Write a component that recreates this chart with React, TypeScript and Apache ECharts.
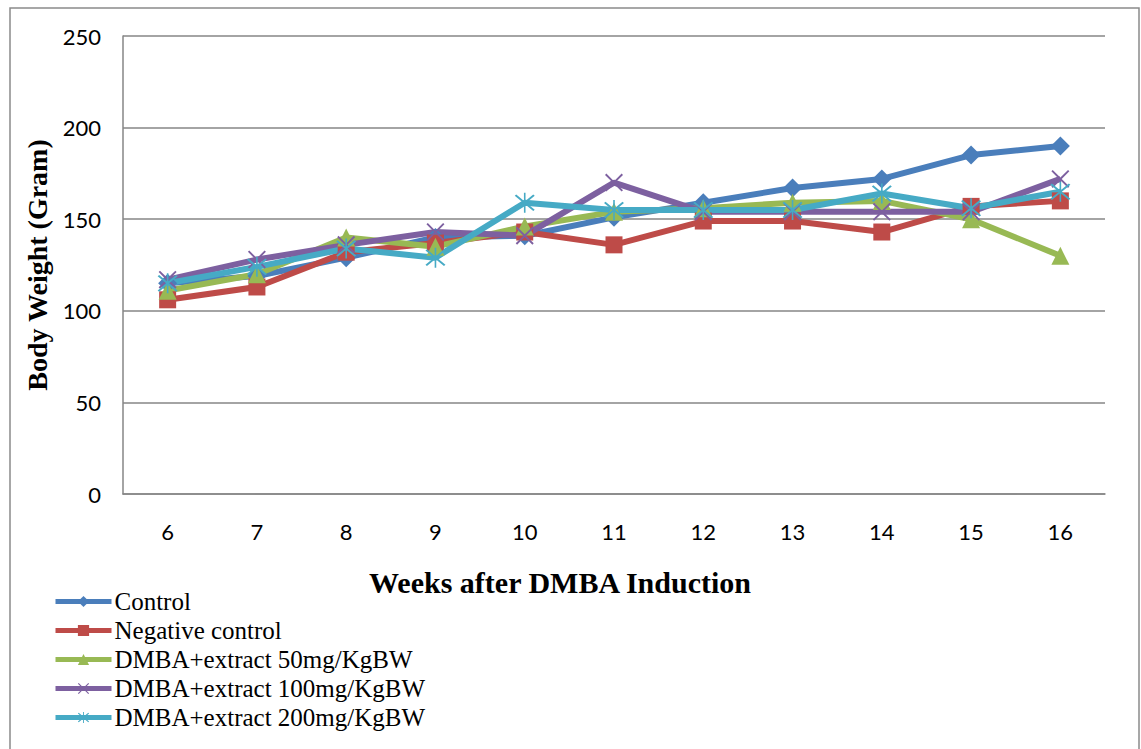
import React, { useEffect, useRef } from "react";
import * as echarts from "echarts";

const weeks = ["6", "7", "8", "9", "10", "11", "12", "13", "14", "15", "16"];
const seriesNames = [
  "Control",
  "Negative control",
  "DMBA+extract 50mg/KgBW",
  "DMBA+extract 100mg/KgBW",
  "DMBA+extract 200mg/KgBW",
];
const control = [115, 119, 129, 140, 141, 151, 159, 167, 172, 185, 190];
const negativeControl = [106, 113, 132, 137, 143, 136, 149, 149, 143, 157, 160];
const extract50 = [111, 120, 140, 135, 146, 154, 156, 159, 160, 150, 130];
const extract100 = [117, 128, 136, 143, 141, 170, 154, 154, 154, 154, 172];
const extract200 = [115, 124, 134, 129, 159, 155, 155, 155, 164, 156, 165];
const yTicks = { min: 0, max: 250, interval: 50 };

const colors = ["#4A7EBB", "#BE4B48", "#98B954", "#7D60A0", "#46AAC5"];

const xPath =
  "path://M0,1.5 L1.5,0 L10,8.5 L18.5,0 L20,1.5 L11.5,10 L20,18.5 L18.5,20 L10,11.5 L1.5,20 L0,18.5 L8.5,10 Z";
const starPath =
  "path://M0,1.5 L1.5,0 L10,8.5 L18.5,0 L20,1.5 L11.5,10 L20,18.5 L18.5,20 L10,11.5 L1.5,20 L0,18.5 L8.5,10 Z M9.2,-2 L10.8,-2 L10.8,22 L9.2,22 Z";

export default function App() {
  const ref = useRef<HTMLDivElement>(null);
  useEffect(() => {
    if (!ref.current) return;
    const chart = echarts.init(ref.current, null, { renderer: "svg" });
    const data = [control, negativeControl, extract50, extract100, extract200];
    const symbols = ["diamond", "rect", "triangle", xPath, starPath];
    const sizes = [19, 17, 18, 18, 20];
    chart.setOption({
      animation: false,
      backgroundColor: "#fff",
      grid: { left: 123, right: 36, top: 36, bottom: 255 },
      legend: {
        orient: "vertical",
        left: 53,
        top: 589,
        padding: 0,
        itemWidth: 56,
        itemHeight: 14,
        itemGap: 4,
        data: seriesNames,
        lineStyle: { width: 5 },
        textStyle: {
          fontFamily: "Liberation Serif",
          fontSize: 25,
          color: "#000",
          lineHeight: 25,
          padding: [0, 0, 0, -2],
        },
      },
      xAxis: {
        type: "category",
        data: weeks,
        boundaryGap: true,
        axisLine: { show: true, lineStyle: { color: "#868686", width: 1.5 } },
        axisTick: { show: false },
        axisLabel: {
          margin: 26,
          fontFamily: "Lato",
          fontSize: 22,
          color: "#000",
        },
      },
      yAxis: {
        type: "value",
        min: yTicks.min,
        max: yTicks.max,
        interval: yTicks.interval,
        name: "Body Weight (Gram)",
        nameLocation: "middle",
        nameGap: 72,
        nameTextStyle: {
          fontFamily: "Liberation Serif",
          fontWeight: "bold",
          fontSize: 28,
          color: "#000",
        },
        axisLine: { show: true, lineStyle: { color: "#868686", width: 1.5 } },
        axisTick: { show: false },
        splitLine: { lineStyle: { color: "#868686", width: 1.5 } },
        axisLabel: {
          margin: 22,
          fontFamily: "Lato",
          fontSize: 22,
          color: "#000",
        },
      },
      graphic: [
        {
          type: "rect",
          shape: { x: 10, y: 8, width: 1129, height: 760 },
          style: { fill: "none", stroke: "#8a8a8a", lineWidth: 1.5 },
          silent: true,
        },
        {
          type: "text",
          x: 560,
          y: 582,
          style: {
            text: "Weeks after DMBA Induction",
            fontFamily: "Liberation Serif",
            fontWeight: "bold",
            fontSize: 30,
            fill: "#000",
            align: "center",
            verticalAlign: "middle",
          },
        },
      ],
      series: seriesNames.map((name, i) => ({
        name,
        type: "line",
        data: data[i],
        symbol: symbols[i],
        symbolSize: sizes[i],
        showAllSymbol: true,
        color: colors[i],
        lineStyle: { width: 6, color: colors[i] },
        itemStyle: { color: colors[i] },
      })),
    });
    return () => chart.dispose();
  }, []);
  return (
    <div
      ref={ref}
      style={{ position: "fixed", left: 0, top: 0, width: 1141, height: 749 }}
    />
  );
}
